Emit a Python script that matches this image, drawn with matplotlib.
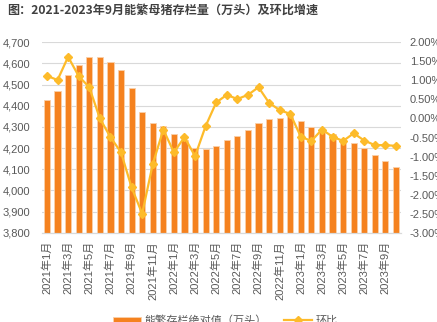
import matplotlib
matplotlib.use('Agg')
from matplotlib import pyplot as plt
from matplotlib.ticker import FuncFormatter, MultipleLocator
import numpy as np

plt.rcParams['font.family'] = ['Liberation Sans', 'Noto Sans CJK SC', 'DejaVu Sans']

# 2021年1月 - 2023年10月
months = [f'{y}年{m}月' for y in (2021, 2022, 2023) for m in range(1, 13)][:34]

stock = [4427, 4471, 4544, 4594, 4632, 4632, 4608, 4568, 4484, 4372,
         4319, 4303, 4267, 4238, 4202, 4194, 4210, 4237, 4257, 4284,
         4317, 4336, 4344, 4352, 4329, 4301, 4286, 4267, 4238, 4223,
         4199, 4167, 4139, 4109]

mom = [1.12, 1.01, 1.62, 1.11, 0.82, 0.00, -0.49, -0.89, -1.81, -2.50,
       -1.20, -0.29, -0.89, -0.49, -0.99, -0.20, 0.42, 0.62, 0.51, 0.62,
       0.82, 0.41, 0.22, 0.12, -0.48, -0.59, -0.29, -0.48, -0.59, -0.39,
       -0.58, -0.70, -0.70, -0.72]

BAR_COLOR = '#F5821F'
LINE_COLOR = '#FDBB2A'
TEXT_COLOR = '#595959'

fig = plt.figure(figsize=(4.37, 3.22), dpi=100)
ax = fig.add_axes([0.0954, 0.2773, 0.8229, 0.5913])
ax2 = ax.twinx()

x = np.arange(len(months))
bars = ax.bar(x, stock, 0.58, color=BAR_COLOR, edgecolor='#FAD0AA',
              linewidth=0.6, label='能繁存栏绝对值（万头）', zorder=2)
line, = ax2.plot(x, mom, color=LINE_COLOR, lw=1.6, marker='D', ms=4.5,
                 label='环比', zorder=3)

ax.set_xlim(-0.5, len(months) - 0.5)
ax.set_ylim(3800, 4700)
ax.yaxis.set_major_locator(MultipleLocator(100))
ax.yaxis.set_major_formatter(FuncFormatter(lambda v, p: f'{v:,.0f}'))
ax2.set_ylim(-3, 2)
ax2.yaxis.set_major_locator(MultipleLocator(0.5))
ax2.yaxis.set_major_formatter(FuncFormatter(lambda v, p: f'{v:.2f}%'))

ax.set_xticks(x[::2])
ax.set_xticklabels(months[::2], rotation=90)

ax.grid(axis='y', color='#D9D9D9', lw=0.8, zorder=0)
ax.set_axisbelow(True)
for a in (ax, ax2):
    for s in ('top', 'left', 'right'):
        a.spines[s].set_visible(False)
    a.spines['bottom'].set_color('#D9D9D9')
    a.tick_params(length=0, labelsize=8, labelcolor=TEXT_COLOR)
ax.tick_params(axis='x', pad=6)
ax.tick_params(axis='y', pad=8)
ax2.tick_params(axis='y', pad=6)

fig.text(0.016, 0.967, '图：2021-2023年9月能繁母猪存栏量（万头）及环比增速',
         fontsize=8.7, fontweight='bold', color='#404040', va='center',
         family=['Noto Sans CJK SC', 'DejaVu Sans'])

fig.legend([bars, line], ['能繁存栏绝对值（万头）', '环比'], loc='center',
           bbox_to_anchor=(0.516, 0.005), ncol=2, frameon=False, fontsize=8,
           labelcolor=TEXT_COLOR, handlelength=2.5, handleheight=0.5,
           columnspacing=1.6, handletextpad=0.3)

fig.savefig('out.png', dpi=100)
